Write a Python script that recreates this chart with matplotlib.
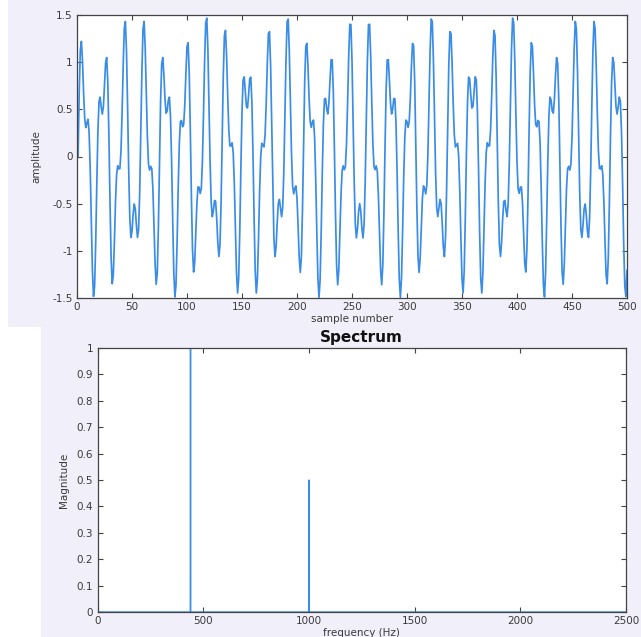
import numpy as np
import matplotlib
matplotlib.use("Agg")
import matplotlib.pyplot as plt
from matplotlib.patches import Rectangle

# signal: two tones at the default 8192 Hz sample rate
fs = 8192
tone_freqs = [440, 1000]
tone_amps = [1.0, 0.5]
n_show = 500          # samples shown in the time plot
n_fft = 8192          # samples used for the spectrum

sample_ticks = [0, 50, 100, 150, 200, 250, 300, 350, 400, 450, 500]
amp_ticks = [-1.5, -1, -0.5, 0, 0.5, 1, 1.5]
amp_ticklabels = ["-1.5", "-1", "-0.5", "0", "0.5", "1", "1.5"]
freq_ticks = [0, 500, 1000, 1500, 2000, 2500]
mag_ticks = [0, 0.1, 0.2, 0.3, 0.4, 0.5, 0.6, 0.7, 0.8, 0.9, 1]
mag_ticklabels = ["0", "0.1", "0.2", "0.3", "0.4", "0.5", "0.6", "0.7", "0.8", "0.9", "1"]

line_col = "#3a8de6"
bg_col = "#f1eff9"
txt_col = "#3a3a3a"

n = np.arange(n_fft)
x = np.zeros(n_fft)
for f, a in zip(tone_freqs, tone_amps):
    x += a * np.sin(2 * np.pi * f * n / fs)

spec = np.abs(np.fft.rfft(x))
spec = spec / spec.max()
freqs = np.fft.rfftfreq(n_fft, 1 / fs)

fig = plt.figure(figsize=(6.41, 6.37), dpi=100)
fig.patch.set_facecolor("white")
# the two panels sit on lavender backgrounds, slightly offset
fig.add_artist(Rectangle((8 / 641, 1 - 327 / 637), 1, 327 / 637, transform=fig.transFigure,
                         facecolor=bg_col, edgecolor="none", zorder=0))
fig.add_artist(Rectangle((41 / 641, 0), 1, 1 - 327 / 637, transform=fig.transFigure,
                         facecolor=bg_col, edgecolor="none", zorder=0))

def style(ax):
    ax.set_facecolor("white")
    for s in ax.spines.values():
        s.set_color("#444444")
        s.set_linewidth(0.9)
    ax.tick_params(direction="in", top=True, right=True, length=3.5, width=0.8,
                   colors="#444444", labelcolor=txt_col, labelsize=7.5, pad=3)

# time plot (1-based sample index)
ax1 = fig.add_axes([77 / 641, 1 - 298 / 637, 550 / 641, 283 / 637])
ax1.plot(np.arange(1, n_show + 1), x[:n_show], color=line_col, lw=1.25)
ax1.set_xlim(0, 500)
ax1.set_ylim(-1.5, 1.5)
ax1.set_xticks(sample_ticks)
ax1.set_yticks(amp_ticks)
ax1.set_yticklabels(amp_ticklabels)
ax1.set_xlabel("sample number", fontsize=7.5, color=txt_col, labelpad=1)
ax1.set_ylabel("amplitude", fontsize=7.5, color=txt_col, labelpad=8)
style(ax1)

# spectrum
ax2 = fig.add_axes([97.5 / 641, 1 - 612 / 637, 528.5 / 641, 264 / 637])
ax2.plot(freqs, spec, color=line_col, lw=1.0)
ax2.set_xlim(0, 2500)
ax2.set_ylim(0, 1)
ax2.set_xticks(freq_ticks)
ax2.set_yticks(mag_ticks)
ax2.set_yticklabels(mag_ticklabels)
ax2.set_xlabel("frequency (Hz)", fontsize=7.5, color=txt_col, labelpad=1)
ax2.set_ylabel("Magnitude", fontsize=7.5, color=txt_col, labelpad=6)
ax2.set_title("Spectrum", fontsize=11, fontweight="bold", color="#111111", pad=4)
style(ax2)

fig.savefig("out.png", dpi=100, facecolor=fig.get_facecolor())
